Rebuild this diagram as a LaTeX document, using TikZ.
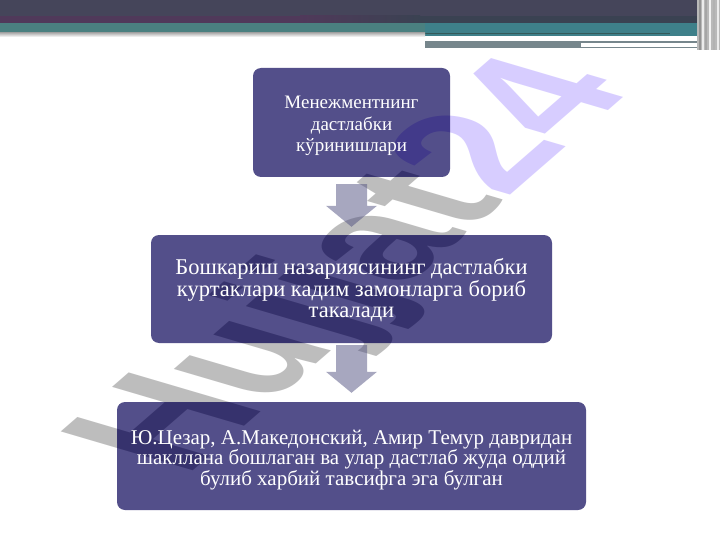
\documentclass[tikz,border=0pt]{standalone}
\usepackage{fontspec}
\setmainfont{Liberation Serif}
\newfontfamily\wmfont{Liberation Sans}
\usetikzlibrary{calc}
\definecolor{topdark}{RGB}{69,69,90}
\definecolor{topdarkb}{RGB}{58,66,82}
\definecolor{toppurple}{RGB}{80,57,90}
\definecolor{topteal}{RGB}{74,128,128}
\definecolor{toptealb}{RGB}{62,128,138}
\definecolor{topgray}{RGB}{118,134,140}
\definecolor{boxc}{RGB}{41,36,109}
\definecolor{arrc}{RGB}{81,81,129}
\definecolor{wmgray}{RGB}{110,110,110}
\definecolor{wmlav}{RGB}{168,146,255}
\tikzset{
  boxshape/.style={draw=none, fill=boxc, fill opacity=0.8, rounded corners=8pt, inner sep=0pt},
  boxtext/.style={text=white, align=center, inner sep=0pt},
  blockarrow/.style={fill=arrc, fill opacity=0.5}
}
\begin{document}
\begin{tikzpicture}[x=1pt,y=-1pt]
\useasboundingbox (0,0) rectangle (720,540);
\fill[white] (0,0) rectangle (720,540);
% watermark (darkened under the translucent boxes)
\begin{scope}[cm={1.155,1.004,-1.919,0.565,(185,478)}]
  \node[transform shape, anchor=base west, inner sep=0pt, font=\wmfont\bfseries\fontsize{100}{100}\selectfont] (wm) at (0,0) {\color{wmgray}Hujjat\color{wmlav}24};
\end{scope}
% light veil outside the boxes
\fill[white, fill opacity=0.55, even odd rule] (0,0) rectangle (720,540)
  [rounded corners=8pt] (253,68) rectangle (450,177)
  (151,235) rectangle (552,343)
  (117,402) rectangle (586,510);
% top band
\fill[topdark] (0,0) rectangle (720,23);
\fill[toppurple] (0,16) rectangle (300,23);
\shade[left color=toppurple, right color=topdarkb] (300,16) rectangle (420,23);
\fill[topdarkb] (420,16) rectangle (697,23);
\fill[topteal] (0,23) rectangle (425,33);
\fill[toptealb] (425,23) rectangle (697,36);
\fill[topteal!70!black] (425,33) rectangle (670,34.5);
\shade[top color=black!30, bottom color=white] (0,33) rectangle (425,37);
\fill[white] (425,37) rectangle (670,41);
\fill[topgray] (425,41) rectangle (580,48);
\fill[topgray] (580,41) rectangle (708,48);
\fill[white] (581,43) rectangle (706,47);
\fill[gray!55] (697,0) rectangle (720,50);
\foreach \xx/\cc in {699/gray!85, 702/white!85!gray, 705/gray!70, 709/white!90!gray, 713/gray!60, 717/white!85!gray}
  \fill[\cc] (\xx,0) rectangle (\xx+2,50);
% boxes
\node[boxshape, minimum width=197, minimum height=109] (b1) at (351.5,122.5) {};
\node[boxshape, minimum width=401, minimum height=108] (b2) at (351.5,289) {};
\node[boxshape, minimum width=469, minimum height=108] (b3) at (351.5,456) {};
% arrows
\coordinate (s1) at ([yshift=-7pt]b1.south);
\coordinate (e1) at ([yshift=8pt]b2.north);
\coordinate (s2) at ([yshift=-2pt]b2.south);
\coordinate (e2) at ([yshift=9pt]b3.north);
\foreach \s/\e in {s1/e1,s2/e2}
  \fill[blockarrow] ([xshift=-15.5pt]\s) -- ([xshift=15.5pt]\s) -- ([xshift=15.5pt,yshift=21pt]\e) -- ([xshift=25.5pt,yshift=21pt]\e) -- (\e) -- ([xshift=-25.5pt,yshift=21pt]\e) -- ([xshift=-15.5pt,yshift=21pt]\e) -- cycle;
% texts
\node[boxtext, font=\fontsize{19}{21.5}\selectfont] (t1) at ([yshift=-3.5pt]b1.center) {Менежментнинг\\дастлабки\\кўринишлари};
\node[boxtext, font=\fontsize{22.5}{20.5}\selectfont] (t2) at ([yshift=-1pt]b2.center) {Бошкариш назариясининг дастлабки\\куртаклари кадим замонларга бориб\\такалади};
\node[boxtext, font=\fontsize{21}{20.5}\selectfont] (t3) at ([yshift=-4pt]b3.center) {Ю.Цезар, А.Македонский, Амир Темур давридан\\шакллана бошлаган ва улар дастлаб жуда оддий\\булиб харбий тавсифга эга булган};
\end{tikzpicture}
\end{document}
